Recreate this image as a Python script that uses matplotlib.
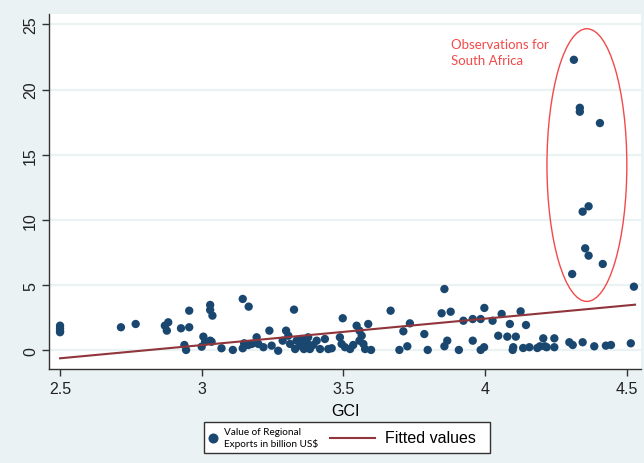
import numpy as np
import matplotlib
matplotlib.use("Agg")
import matplotlib.pyplot as plt
from matplotlib.patches import Ellipse, Rectangle
from matplotlib.lines import Line2D

# GCI score and value of regional exports (billion US$) per observation
gci = [2.5, 2.5, 2.5, 2.5, 2.715, 2.767, 2.882, 2.877, 2.87, 2.927, 2.956, 2.956,
       2.939, 2.945, 3.006, 3.0, 3.03, 3.03, 3.038, 3.035, 3.012, 3.03, 3.07, 3.11,
       3.145, 3.166, 3.15, 3.145, 3.165, 3.177, 3.194, 3.2, 3.218, 3.239, 3.247, 3.27,
       3.286, 3.298, 3.306, 3.312, 3.326, 3.33, 3.335, 3.347, 3.353, 3.361, 3.371, 3.376,
       3.382, 3.394, 3.406, 3.418, 3.435, 3.447, 3.459, 3.488, 3.498, 3.494, 3.506, 3.524,
       3.535, 3.547, 3.557, 3.565, 3.557, 3.571, 3.577, 3.588, 3.598, 3.667, 3.698, 3.712,
       3.726, 3.735, 3.786, 3.798, 3.847, 3.857, 3.879, 3.857, 3.867, 3.908, 3.924, 3.957,
       3.957, 3.985, 3.998, 3.985, 3.997, 4.027, 4.047, 4.059, 4.079, 4.088, 4.109, 4.1,
       4.098, 4.126, 4.145, 4.135, 4.157, 4.185, 4.194, 4.206, 4.212, 4.218, 4.245, 4.245,
       4.298, 4.31, 4.345, 4.386, 4.427, 4.445, 4.515,
       4.314, 4.335, 4.335, 4.406, 4.366, 4.345, 4.354, 4.366, 4.308, 4.416, 4.526]
exports = [1.9, 1.7, 1.5, 1.4, 1.78, 2.03, 2.16, 1.52, 1.9, 1.70, 1.78, 3.05,
           0.42, 0.04, 1.06, 0.29, 3.49, 3.10, 2.67, 0.67, 0.67, 0.75, 0.17, 0.04,
           3.95, 3.36, 0.55, 0.17, 0.42, 0.5, 1.01, 0.5, 0.25, 1.52, 0.37, -0.02,
           0.75, 1.52, 1.13, 0.5, 3.13, 0.11, 0.75, 0.37, 0.88, 0.11, 0.63, 1.01,
           0.11, 0.42, 0.75, 0.11, 0.88, 0.11, 0.17, 1.01, 2.47, 0.5, 0.25, 0.11,
           0.42, 1.9, 1.52, 1.13, 0.75, 0.5, 0.11, 2.03, 0.04, 3.05, 0.04, 1.47,
           0.32, 2.08, 1.26, 0.04, 2.85, 4.71, 2.97, 0.32, 0.75, 0.04, 2.28, 2.41,
           0.75, 2.41, 3.26, 0.04, 0.25, 2.28, 1.13, 2.8, 1.06, 2.03, 1.06, 0.25,
           0.04, 3.0, 1.95, 0.19, 0.25, 0.19, 0.32, 0.93, 0.32, 0.25, 0.93, 0.25,
           0.63, 0.42, 0.63, 0.32, 0.37, 0.42, 0.55,
           22.28, 18.6, 18.3, 17.43, 11.05, 10.64, 7.83, 7.27, 5.86, 6.63, 4.89]

# linear fit end points
fit_x = [2.5, 4.53]
fit_y = [-0.6, 3.51]

navy = "#1a476f"
maroon = "#90353b"
bg = "#eaf2f3"
W, H = 644, 464

fig = plt.figure(figsize=(6.44, 4.64), dpi=100, facecolor=bg)
ax = fig.add_axes([49 / W, 1 - 370 / H, 592 / W, 355 / H])
ax.set_facecolor("white")

ax.scatter(gci, exports, s=36, color=navy, edgecolors="none", zorder=3)
ax.plot(fit_x, fit_y, color=maroon, lw=1.5, zorder=4)

# highlight the South Africa observations
ax.add_patch(Ellipse((4.360, 14.21), 0.282, 20.9, fill=False,
                     edgecolor="#f24a4a", lw=1.0, zorder=5))
ax.text(3.880, 23.95, "Observations for\nSouth Africa", color="#f24a4a",
        fontsize=9.5, family="Lato", va="top", ha="left", linespacing=1.35)

ax.set_xlim(2.461, 4.551)
ax.set_ylim(-1.42, 25.79)
ax.set_xticks([2.5, 3, 3.5, 4, 4.5])
ax.set_xticklabels(["2.5", "3", "3.5", "4", "4.5"])
ax.set_yticks([0, 5, 10, 15, 20, 25])
for y in [0, 5, 10, 15, 20, 25]:
    ax.axhline(y, color=bg, lw=1.6, zorder=1)

for s in ["top", "right"]:
    ax.spines[s].set_visible(False)
for s in ["left", "bottom"]:
    ax.spines[s].set_color("#333333")
    ax.spines[s].set_linewidth(1.0)

ax.tick_params(axis="both", length=5, width=1, color="#333333",
               labelsize=11.5, labelcolor="#222222", labelfontfamily="Liberation Sans")
plt.setp(ax.get_yticklabels(), rotation=90, va="center")
ax.tick_params(axis="y", pad=3)
ax.set_xlabel("GCI", fontsize=11.5, family="Liberation Sans", labelpad=5)


# legend box below the plot, laid out in pixel positions
def fx(px):
    return px / W


def fy(py):
    return 1 - py / H


fig.add_artist(Rectangle((fx(204), fy(454)), fx(490) - fx(204), fy(423) - fy(454),
                         transform=fig.transFigure, facecolor="white",
                         edgecolor="#333333", lw=1.0))
fig.add_artist(Line2D([fx(213)], [fy(439)], transform=fig.transFigure,
                      marker="o", ls="none", color=navy, markersize=6.2))
fig.text(fx(224), fy(439), "Value of Regional\nExports in billion US\\$",
         fontsize=7.2, family="Lato", va="center", ha="left", linespacing=1.25)
fig.add_artist(Line2D([fx(330), fx(375)], [fy(439), fy(439)],
                      transform=fig.transFigure, color=maroon, lw=1.5))
fig.text(fx(385), fy(439), "Fitted values", fontsize=11.5,
         family="Liberation Sans", va="center", ha="left")

fig.savefig("out.png", dpi=100, facecolor=bg)
